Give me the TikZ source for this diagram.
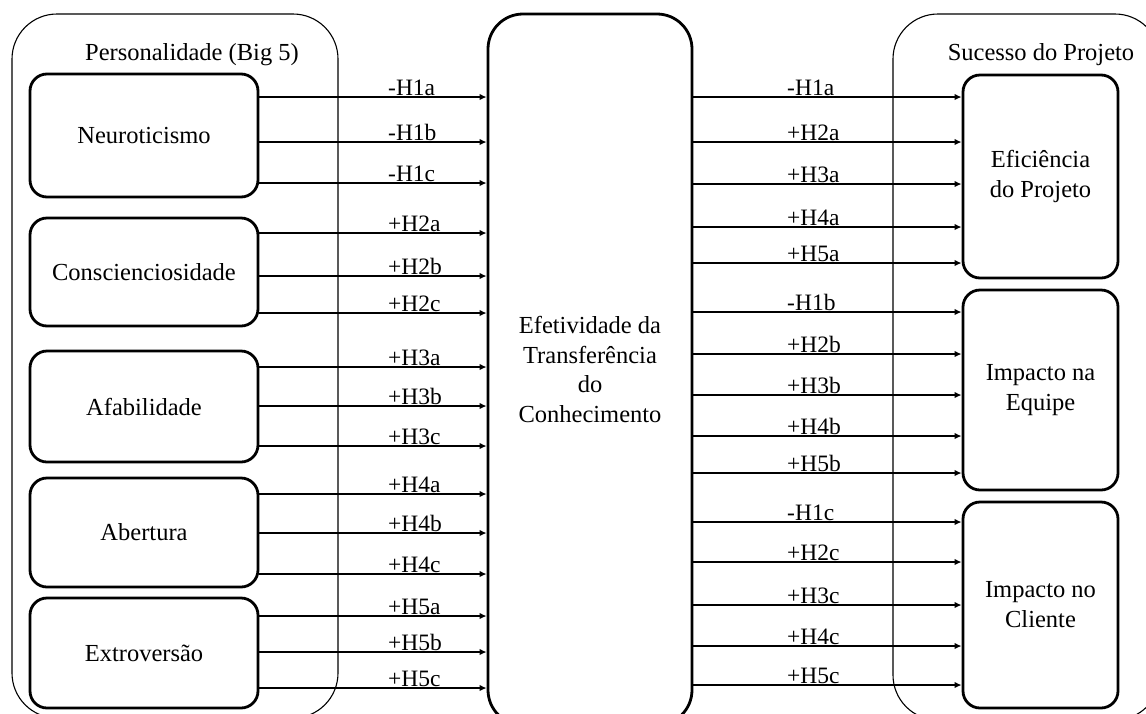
\documentclass[tikz,border=0pt]{standalone}
\usepackage{fontspec}
\setmainfont{Liberation Serif}
\usetikzlibrary{arrows.meta}
\begin{document}
\begin{tikzpicture}[x=1pt,y=-1pt,
  container/.style={draw, line width=1.1pt, rounded corners=45pt, inner sep=0pt},
  factor/.style={draw, line width=2.8pt, rounded corners=17pt, align=center, inner sep=0pt,
    font=\fontsize{24.5}{30}\selectfont},
  center box/.style={draw, line width=2.8pt, rounded corners=35pt, align=center, inner sep=0pt,
    font=\fontsize{24.5}{29.7}\selectfont},
  titletext/.style={font=\fontsize{24.5}{30}\selectfont, inner sep=0pt},
  arr/.style={line width=2pt, -{Latex[length=7pt,width=6.5pt]}},
  lbl/.style={font=\fontsize{23.5}{26}\selectfont, anchor=base west, inner sep=0pt}]
\useasboundingbox (0,0) rectangle (1146,713);
% containers
\node[container, minimum width=326pt, minimum height=704pt] (leftc) at (175,366) {};
\node[container, minimum width=267pt, minimum height=706pt] (rightc) at (1026.5,367) {};
\node[titletext] (ltitle) at (192,55) {Personalidade (Big 5)};
\node[titletext] (rtitle) at (1041,55) {Sucesso do Projeto};
% left factors
\node[factor, minimum width=228pt, minimum height=123pt] (neu) at (144,135.5) {Neuroticismo};
\node[factor, minimum width=228pt, minimum height=108pt] (con) at (144,272) {Conscienciosidade};
\node[factor, minimum width=228pt, minimum height=111pt] (afa) at (144,406.5) {Afabilidade};
\node[factor, minimum width=228pt, minimum height=109pt] (abe) at (144,532.5) {Abertura};
\node[factor, minimum width=228pt, minimum height=110pt] (ext) at (144,653) {Extrovers\~ao};
% center
\node[center box, minimum width=204pt, minimum height=711pt] (eft) at (590,369.5)
  {Efetividade da\\Transfer\^encia\\do\\Conhecimento};
% right outcomes
\node[factor, minimum width=155pt, minimum height=203pt] (efi) at (1040.5,176.5) {Efici\^encia\\do Projeto};
\node[factor, minimum width=155pt, minimum height=200pt] (equ) at (1040.5,390) {Impacto na\\Equipe};
\node[factor, minimum width=155pt, minimum height=206pt] (cli) at (1040.5,605) {Impacto no\\Cliente};
% left arrows
\foreach \src/\y/\t [count=\i] in {neu/97/-H1a, neu/142/-H1b, neu/183/-H1c,
   con/233/+H2a, con/276/+H2b, con/313/+H2c,
   afa/367/+H3a, afa/406/+H3b, afa/446/+H3c,
   abe/494/+H4a, abe/533/+H4b, abe/574/+H4c,
   ext/616/+H5a, ext/652/+H5b, ext/688/+H5c}{
  \draw[arr] (\src.east |- 0,\y) -- (eft.west |- 0,\y);
  \node[lbl] (ll\i) at (388,{\y-1.5}) {\t};
}
% right arrows
\foreach \dst/\y/\t [count=\i] in {efi/97/-H1a, efi/142/+H2a, efi/184/+H3a, efi/227/+H4a, efi/263/+H5a,
   equ/312/-H1b, equ/354/+H2b, equ/395/+H3b, equ/436/+H4b, equ/473/+H5b,
   cli/522/-H1c, cli/562/+H2c, cli/605/+H3c, cli/646/+H4c, cli/685/+H5c}{
  \draw[arr] (eft.east |- 0,\y) -- (\dst.west |- 0,\y);
  \node[lbl] (rl\i) at (787,{\y-1.5}) {\t};
}
\end{tikzpicture}
\end{document}
